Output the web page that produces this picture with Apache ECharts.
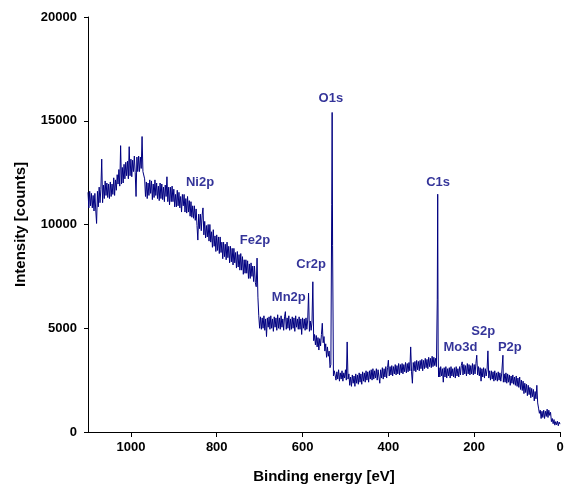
<!DOCTYPE html>
<html><head><meta charset="utf-8">
<script src="https://cdn.jsdelivr.net/npm/echarts@6/dist/echarts.min.js"></script>
<style>html,body{margin:0;padding:0;background:#fff}#c{width:570px;height:487px}</style>
</head><body><div id="c"></div>
<script>
// XPS survey spectrum: [binding energy eV, intensity counts]
const regionNiHump = [
 [1100,11550],[1098,10800],[1096,11600],[1094,10900],[1092,11500],[1090,10800],[1088,11400],[1086,10650],[1084,11500],[1082,10700],
 [1080,10050],[1078,11600],[1076,10850],[1074,11800],[1072,11050],[1070,11700],[1068,13150],[1066,11050],[1064,11900],[1062,11250],
 [1060,12100],[1058,11400],[1056,12000],[1054,11300],[1052,11950],[1050,11250],[1048,12050],[1046,11350],[1044,11950],[1042,11450],
 [1040,12250],[1038,11400],[1036,12150],[1034,11650],[1032,12400],[1030,11950],[1028,12650],[1026,11850],[1024,13800],[1022,11950],
 [1020,12750],[1018,12000],[1016,12900],[1014,12200],[1012,13000],[1010,12350],[1008,13050],[1006,12200],[1004,13750],[1002,12350],
 [1000,13150],[998,12300],[996,13100],[994,12550],[992,13300],[990,12500],[988,11350],[986,13250],[984,12550],[982,13300],
 [980,12550],[978,13250],[976,12700],[974,14240],[972,12550],[970,12500]
];
const regionNi = [
 [968,12200],[966,11350],[964,12050],[962,11250],[960,12000],[958,11400],[956,12150],[954,11500],[952,12100],[950,11200],
 [948,11950],[946,11300],[944,12150],[942,11400],[940,12000],[938,11250],[936,11850],[934,11150],[932,12000],[930,11250],
 [928,11950],[926,11200],[924,11800],[922,11100],[920,11900],[918,11350],[916,12300],[914,11100],[912,11800],[910,10950],
 [908,11800],[906,11100],[904,11850],[902,11100],[900,11700],[898,10850],[896,11450],[894,10850],[892,11650],[890,10900],
 [888,11550],[886,10800],[884,11350],[882,10600],[880,11450],[878,10900],[876,11450],[874,10600],[872,11250],[870,10550],
 [868,11350],[866,10600],[864,11150],[862,10400],[860,11100],[858,10350],[856,10900],[854,10300],[852,10900],[850,10200],
 [848,10750],[846,9950]
];
const regionFe = [
 [844,9250],[842,10500],[840,9800],[838,10500],[836,9700],[834,10450],[832,10800],[830,9500],[828,10150],[826,9350],
 [824,9950],[822,9400],[820,10000],[818,9200],[816,10000],[814,9150],[812,9650],[810,8900],[808,9750],[806,8950],
 [804,9450],[802,8700],[800,9500],[798,8750],[796,9400],[794,8600],[792,9400],[790,8650],[788,9150],[786,8350],
 [784,9150],[782,8450],[780,9050],[778,8300],[776,9150],[774,8400],[772,8950],[770,8150],[768,8950],[766,8200],
 [764,8850],[762,8050],[760,8850],[758,8150],[756,8650],[754,7900],[752,8700],[750,7950],[748,8550],[746,7800],
 [744,8600],[742,7800],[740,8450],[738,7600],[736,8300],[734,7650],[732,8300],[730,7650],[728,8250],[726,7400],
 [724,8100],[722,7400],[720,8150],[718,7500],[716,8000],[714,7250],[712,8000],[710,7200],[708,7000],[706,8380],
 [704,6500],[702,5600],[700,5000]
];
const regionMnCr = [
 [698,5550],[696,4950],[694,5500],[692,5000],[690,5600],[688,4900],[686,5450],[684,4600],[682,5500],[680,5050],
 [678,5550],[676,4950],[674,5600],[672,5000],[670,5450],[668,4850],[666,5550],[664,5050],[662,5500],[660,4900],
 [658,5650],[656,5000],[654,5500],[652,4950],[650,5600],[648,5050],[646,5450],[644,4900],[642,5550],[640,5800],
 [638,4950],[636,5500],[634,5000],[632,5600],[630,4900],[628,5450],[626,4950],[624,5550],[622,5000],[620,5500],
 [618,4850],[616,5600],[614,5050],[612,5450],[610,4950],[608,5550],[606,4950],[604,5450],[602,4700],[600,5500],
 [598,5000],[596,5450],[594,4900],[592,5500],[590,4950],[588,5400],[586,6690],[584,4850],[582,5350],[580,4900],
 [578,5300],[576,7240],[574,4400]
];
const regionO = [
 [572,4700],[570,4200],[568,4650],[566,4100],[564,4550],[562,3950],[560,4500],[558,4150],[556,4700],[554,5240],
 [552,4300],[550,4600],[548,3900],[546,4250],[544,3600],[542,4100],[540,3650],[538,3900],[536,3100],[534,3250],
 [532,10950],[531,15400],[530,9000],[528,2700],[526,2950]
];
const regionC = [
 [524,2950],[522,2500],[520,2900],[518,2550],[516,3000],[514,2450],[512,2850],[510,2550],[508,2950],[506,2450],
 [504,2850],[502,2600],[500,3000],[498,2500],[496,4340],[494,2550],[492,2800],[490,2250],[488,2650],[486,2200],
 [484,2750],[482,2350],[480,2700],[478,2200],[476,2800],[474,2350],[472,2750],[470,2300],[468,2850],[466,2400],
 [464,2800],[462,2300],[460,2900],[458,2450],[456,2850],[454,2400],[452,2950],[450,2500],[448,2900],[446,2400],
 [444,2950],[442,2550],[440,3000],[438,2500],[436,3050],[434,2550],[432,2950],[430,2600],[428,3050],[426,2500],
 [424,3000],[422,2650],[420,2350],[418,3000],[416,2600],[414,3100],[412,2550],[410,3050],[408,2650],[406,3150],
 [404,2600],[402,3100],[400,3460],[398,2700],[396,3150],[394,2750],[392,3200],[390,2700],[388,3150],[386,2800],
 [384,3250],[382,2750],[380,3200],[378,2800],[376,3300],[374,2750],[372,3250],[370,2850],[368,3300],[366,2800],
 [364,3250],[362,2900],[360,3350],[358,2850],[356,3300],[354,2900],[352,3350],[350,2950],[348,4100],[346,2900],
 [344,2350],[342,3350],[340,2950],[338,3400],[336,2900],[334,3450],[332,3000],[330,3400],[328,2950],[326,3450],
 [324,3050],[322,3500],[320,2950],[318,3450],[316,3050],[314,3550],[312,3100],[310,3500],[308,3050],[306,3600],
 [304,3150],[302,3550],[300,3100],[298,3650],[296,3150],[294,3600],[292,3200],[290,3550],[288,3150],
 [286,6400],[285,11460],[284,4000],[283,2650]
];
const regionMoSP = [
 [282,3100],[280,2650],[278,3150],[276,2700],[274,3050],[272,2400],[270,3100],[268,2650],[266,3150],[264,2600],
 [262,3050],[260,2700],[258,3100],[256,2600],[254,3150],[252,2700],[250,3050],[248,2650],[246,3100],[244,2600],
 [242,3150],[240,2700],[238,3050],[236,2650],[234,3150],[232,2750],[230,3200],[228,3380],[226,2750],[224,3250],
 [222,2800],[220,3200],[218,2700],[216,3300],[214,2800],[212,3250],[210,2750],[208,3200],[206,2800],[204,3300],
 [202,2750],[200,3250],[198,2800],[196,3300],[194,3700],[192,2750],[190,3150],[188,2700],[186,3100],[184,2450],
 [182,3050],[180,2650],[178,3100],[176,2600],[174,3050],[172,2700],[170,3000],[168,3910],[166,2600],[164,2950],
 [162,2500],[160,2950],[158,2550],[156,2900],[154,2450],[152,2950],[150,2500],[148,2850],[146,2450],[144,2900],
 [142,2500],[140,2850],[138,2450],[136,2800],[133,3700],[132,2400],[130,2800],[128,2400],[126,2850],[124,2350],
 [122,2800],[120,2400],[118,2750],[116,2250],[114,2700],[112,2350],[110,2750],[108,2300],[106,2650],[104,2250],
 [102,2700],[100,2200]
];
const regionValence = [
 [98,2600],[96,2150],[94,2650],[92,2050],[90,2500],[88,2000],[86,2450],[84,1850],[82,2350],[80,1900],
 [78,2300],[76,1750],[74,2250],[72,1800],[70,2150],[68,1650],[66,2100],[64,1700],[62,2050],[60,1500],
 [58,1950],[56,1600],[54,2250],[52,1400],[50,1150],[48,900],[46,1050],[44,650],[42,1000],[40,700],
 [38,1050],[36,650],[34,1000],[32,750],[30,1100],[28,700],[26,1050],[24,800],[22,950],[20,500],
 [18,650],[16,400],[14,600],[12,330],[10,500],[8,350],[6,520],[4,300],[2,480],[0,380]
];

const peakNames = ['Ni2p','Fe2p','Mn2p','Cr2p','O1s','C1s','Mo3d','S2p','P2p'];
const peakLabelEnergy = [839,711,632,580,534,284,232,179,117];
const peakLabelCounts = [12020,9220,6490,8080,16060,12020,4070,4860,4070];

const xTicks = [0,200,400,600,800,1000];
const yTicks = [0,5000,10000,15000,20000];

const spectrum = [].concat(regionNiHump, regionNi, regionFe, regionMnCr, regionO, regionC, regionMoSP, regionValence);
const labelData = peakNames.map((n,i)=>({name:n, value:[peakLabelEnergy[i], peakLabelCounts[i]]}));

const FONT = "'Liberation Sans', Arial, sans-serif";
const chart = echarts.init(document.getElementById('c'), null, {renderer:'canvas'});
chart.setOption({
  animation:false,
  backgroundColor:'#fff',
  grid:{left:88, right:10, top:17, bottom:55, containLabel:false, outerBoundsMode:'none'},
  xAxis:{
    type:'value', inverse:true, min:0, max:1100, interval:200,
    name:'Binding energy [eV]', nameLocation:'middle', nameGap:37,
    nameTextStyle:{fontFamily:FONT, fontWeight:'bold', fontSize:15, color:'#000'},
    axisLine:{show:true, onZero:false, lineStyle:{color:'#000', width:1}},
    axisTick:{show:true, length:5, lineStyle:{color:'#000'}},
    axisLabel:{fontFamily:FONT, fontWeight:'bold', fontSize:13, color:'#000', margin:9, showMaxLabel:false,
      formatter:v=> xTicks.indexOf(v)>=0 ? String(v) : ''},
    splitLine:{show:false}
  },
  yAxis:{
    type:'value', min:0, max:20000, interval:5000,
    name:'Intensity [counts]', nameLocation:'middle', nameGap:60,
    nameTextStyle:{fontFamily:FONT, fontWeight:'bold', fontSize:15, color:'#000'},
    axisLine:{show:true, onZero:false, lineStyle:{color:'#000', width:1}},
    axisTick:{show:true, length:4, lineStyle:{color:'#000'}},
    axisLabel:{fontFamily:FONT, fontWeight:'bold', fontSize:13, color:'#000', margin:11,
      formatter:v=> yTicks.indexOf(v)>=0 ? String(v) : ''},
    splitLine:{show:false}
  },
  series:[
    {type:'line', data:spectrum, showSymbol:false, symbol:'none',
     lineStyle:{color:'#000080', width:1}, itemStyle:{color:'#000080'}, silent:true},
    {type:'scatter', data:labelData, symbolSize:0, silent:true,
     label:{show:true, position:'inside', formatter:p=>p.name, fontFamily:FONT, fontWeight:'bold', fontSize:13, color:'#000080'}}
  ]
});
</script></body></html>
